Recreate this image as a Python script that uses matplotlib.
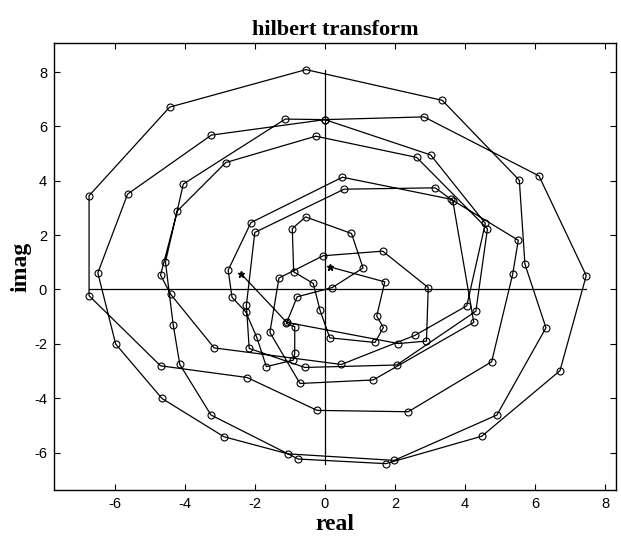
import numpy as np
import matplotlib
matplotlib.use("Agg")
import matplotlib.pyplot as plt

plt.rcParams['axes.unicode_minus'] = False

# analytic signal samples, in plotting order (real, imag)
re_vals = [0.14, 1.71, 1.48, 1.67, 1.43, 0.14, -0.14, -0.33, -0.89, -0.93,
           -0.55, 0.76, 1.09, 0.21, -0.79, -1.10, -0.86, -0.86, -0.90, -1.67,
           -1.95, -2.26, -2.65, -2.76, -2.11, 0.50, 3.60, 5.52, 5.36, 4.76,
           2.38, -0.22, -2.22, -4.69, -6.73, -6.73, -4.43, -0.54, 3.35, 5.55,
           5.71, 6.31, 4.91, 1.98, -1.05, -2.88, -4.65, -5.97, -6.48, -5.63,
           -3.24, 0.00, 2.83, 6.11, 7.46, 6.71, 4.48, 1.74, -0.76, -3.25,
           -4.14, -4.33, -4.55, -4.04, -1.13, 0.00, 3.02, 4.58, 4.05, 2.57,
           0.47, -3.16, -4.40, -4.69, -4.21, -2.83, -0.26, 2.62, 4.64, 4.31,
           2.05, -0.57, -2.16, -2.24, -2.00, 0.55, 3.15, 3.65, 4.25, 1.38,
           -0.71, -1.57, -1.31, -0.05, 1.65, 2.95, 2.90, 2.10, -1.09, -2.38]
im_vals = [0.83, 0.28, -0.98, -1.40, -1.95, -1.78, -0.76, 0.22, 0.65, 2.24,
           2.67, 2.06, 0.79, 0.07, -0.27, -1.25, -1.37, -2.35, -2.60, -2.84,
           -1.74, -0.82, -0.29, 0.71, 2.46, 4.13, 3.32, 1.81, 0.56, -2.66,
           -4.50, -4.45, -3.24, -2.81, -0.23, 3.45, 6.71, 8.09, 6.96, 4.02,
           0.93, -1.41, -4.62, -6.29, -6.05, -5.42, -4.01, -2.01, 0.61, 3.51,
           5.68, 6.25, 6.35, 4.18, 0.51, -2.99, -5.40, -6.41, -6.24, -4.62,
           -2.76, -1.29, 1.01, 3.88, 6.27, 6.25, 4.95, 2.43, -0.60, -1.69,
           -2.76, -2.15, -0.18, 0.53, 2.89, 4.67, 5.64, 4.86, 2.23, -0.80,
           -2.78, -2.87, -2.17, -0.58, 2.10, 3.69, 3.74, 3.27, -1.21, -3.33,
           -3.46, -1.58, 0.42, 1.24, 1.41, 0.07, -1.90, -1.99, -1.21, 0.56]

x_ticks = [-6, -4, -2, 0, 2, 4, 6, 8]
y_ticks = [-6, -4, -2, 0, 2, 4, 6, 8]

re = np.array(re_vals)
im = np.array(im_vals)

fig = plt.figure(figsize=(6.21, 5.36), dpi=100)
ax = fig.add_axes([0.087, 0.0858, 0.905, 0.834])

# axis lines through the origin, spanning the data range
ax.plot([0, 0], [im.min(), im.max()], color='k', lw=0.9)
ax.plot([re.min(), re.max()], [0, 0], color='k', lw=0.9)

ax.plot(re, im, '-', color='k', lw=0.9)
ax.plot(re[1:-1], im[1:-1], 'o', mfc='none', mec='k', ms=5, mew=0.8)
ax.plot(re[[0, -1]], im[[0, -1]], '*', color='k', ms=5)

ax.set_xlim(-7.73, 8.31)
ax.set_ylim(-7.38, 9.07)
ax.set_xticks(x_ticks)
ax.set_yticks(y_ticks)
ax.tick_params(direction='in', top=True, right=True, length=4, width=0.8,
               labelsize=10.5, pad=5)
for lab in ax.get_xticklabels() + ax.get_yticklabels():
    lab.set_family('Liberation Sans')
for s in ax.spines.values():
    s.set_linewidth(1.0)

ax.set_title('hilbert transform', family='Liberation Serif', fontweight='bold',
             fontsize=16, pad=6)
ax.set_xlabel('real', family='Liberation Serif', fontweight='bold',
              fontsize=17, labelpad=2)
ax.set_ylabel('imag', family='Liberation Serif', fontweight='bold',
              fontsize=17, labelpad=2)

fig.savefig('out.png', dpi=100)
